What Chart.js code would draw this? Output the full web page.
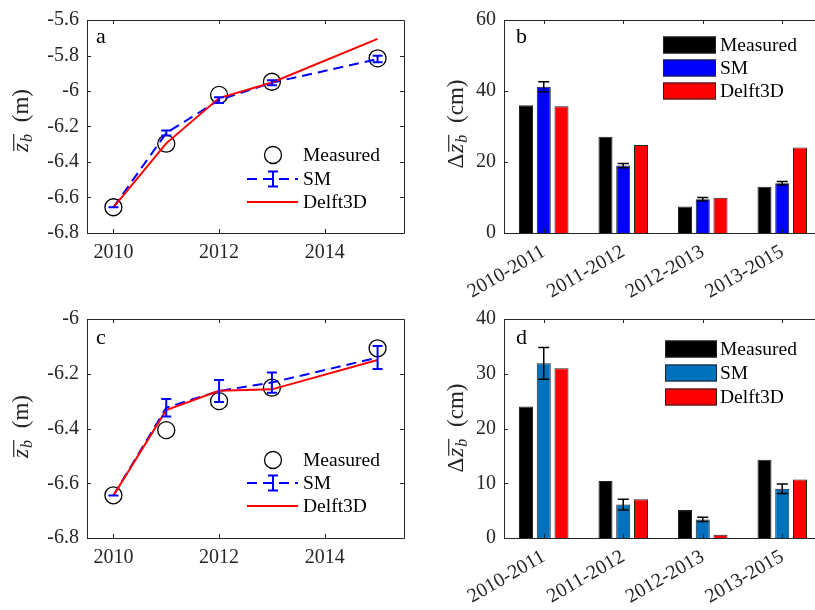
<!DOCTYPE html>
<html>
<head>
<meta charset="utf-8">
<script src="https://cdn.jsdelivr.net/npm/chart.js@4.4.1/dist/chart.umd.min.js"></script>
<style>
  html, body { margin: 0; padding: 0; background: #fff; overflow: hidden; width: 815px; height: 610px; }
  canvas { position: absolute; left: 0; top: 0; }
</style>
</head>
<body>
<canvas id="panelA" width="840" height="610"></canvas>
<canvas id="panelB" width="840" height="610"></canvas>
<canvas id="panelC" width="840" height="610"></canvas>
<canvas id="panelD" width="840" height="610"></canvas>
<script>
// ---- data ----
const years = [2010, 2011, 2012, 2013, 2015];
const yearTicks = [2010, 2012, 2014];

// mean bed level, site 1 (m)
const measuredA = [-6.655, -6.297, -6.022, -5.948, -5.816];
const smA       = [-6.655, -6.237, -6.051, -5.953, -5.820];
const smErrA    = [0, 0.014, 0.016, 0.014, 0.018];
const delftA    = [-6.655, -6.295, -6.040, -5.952, -5.706];

// mean bed level, site 2 (m)
const measuredC = [-6.644, -6.406, -6.300, -6.251, -6.107];
const smC       = [-6.645, -6.324, -6.263, -6.232, -6.141];
const smErrC    = [0, 0.032, 0.040, 0.037, 0.042];
const delftC    = [-6.645, -6.333, -6.262, -6.257, -6.150];

// bed level change per period (cm)
const periods   = ['2010-2011', '2011-2012', '2012-2013', '2013-2015'];
const measuredB = [36.0, 27.1, 7.5, 13.0];
const smB       = [41.2, 19.0, 9.5, 14.0];
const smErrB    = [1.4, 0.6, 0.5, 0.5];
const delftB    = [35.7, 24.8, 9.9, 24.1];

const measuredD = [24.0, 10.4, 5.1, 14.3];
const smD       = [31.9, 6.1, 3.4, 9.0];
const smErrD    = [2.9, 1.0, 0.4, 0.85];
const delftD    = [31.0, 7.1, 0.6, 10.7];

const seriesNames = ['Measured', 'SM', 'Delft3D'];

// ---- styling ----
const FONT = '"Liberation Serif", "DejaVu Serif", "Times New Roman", serif';
const AXIS = '#262626';
const BLUE = '#0000ff';
const RED = '#ff0000';
const MBLUE = '#0072bd';
const CW = 840, CH = 610;
const TICK_FONT = { family: FONT, size: 20 };

function fmtTick(v) { return String(Number(v.toFixed(1))); }

// box around the plot area with inward tick marks on all four sides
const boxPlugin = {
  id: 'boxTicks',
  afterDraw(chart) {
    const { ctx, chartArea: a, scales } = chart;
    const len = 4;
    ctx.save();
    ctx.strokeStyle = AXIS;
    ctx.lineWidth = 1;
    ctx.beginPath();
    ctx.rect(Math.round(a.left) + 0.5, Math.round(a.top) + 0.5,
             Math.round(a.right - a.left), Math.round(a.bottom - a.top));
    const xs = scales.x, ys = scales.y;
    xs.ticks.forEach((t, i) => {
      const px = Math.round(xs.getPixelForTick(i)) + 0.5;
      ctx.moveTo(px, a.bottom); ctx.lineTo(px, a.bottom - len);
      ctx.moveTo(px, a.top); ctx.lineTo(px, a.top + len);
    });
    ys.ticks.forEach((t, i) => {
      const py = Math.round(ys.getPixelForTick(i)) + 0.5;
      ctx.moveTo(a.left, py); ctx.lineTo(a.left + len, py);
      ctx.moveTo(a.right, py); ctx.lineTo(a.right - len, py);
    });
    ctx.stroke();
    ctx.restore();
  }
};

// error bars for the SM series (dataset index 1)
const errorBarPlugin = {
  id: 'errBars',
  afterDatasetsDraw(chart, args, opts) {
    const { ctx } = chart;
    const ys = chart.scales.y;
    const meta = chart.getDatasetMeta(1);
    const vals = chart.data.datasets[1].data.map(d => (typeof d === 'object' ? d.y : d));
    ctx.save();
    ctx.strokeStyle = opts.color;
    ctx.lineWidth = opts.width;
    ctx.setLineDash([]);
    meta.data.forEach((el, i) => {
      const e = opts.errors[i];
      const top = ys.getPixelForValue(vals[i] + e);
      const bot = ys.getPixelForValue(vals[i] - e);
      const x = el.x, c = opts.cap;
      ctx.beginPath();
      ctx.moveTo(x, top); ctx.lineTo(x, bot);
      ctx.moveTo(x - c, top); ctx.lineTo(x + c, top);
      ctx.moveTo(x - c, bot); ctx.lineTo(x + c, bot);
      ctx.stroke();
    });
    ctx.restore();
  }
};

// rotated y-axis title: [prefix] z_b with overline, then unit
function drawZTitle(ctx, cx, cy, prefix, unit) {
  const fs = 23;
  const fN = fs + 'px ' + FONT;
  const fI = 'italic ' + fs + 'px ' + FONT;
  const fS = 'italic ' + Math.round(fs * 0.7) + 'px ' + FONT;
  const gap = 6;
  ctx.save();
  ctx.translate(cx, cy);
  ctx.rotate(-Math.PI / 2);
  ctx.fillStyle = AXIS;
  ctx.textBaseline = 'alphabetic';
  ctx.textAlign = 'left';
  ctx.font = fN; const wP = prefix ? ctx.measureText(prefix).width : 0;
  ctx.font = fI; const wZ = ctx.measureText('z').width;
  ctx.font = fS; const wB = ctx.measureText('b').width;
  ctx.font = fN; const wU = ctx.measureText(' (' + unit + ')').width;
  const total = wP + 1 + wZ + 1 + wB + gap + wU;
  let x = -total / 2;
  const base = 6;
  if (prefix) { ctx.font = fN; ctx.fillText(prefix, x, base); x += wP + 1; }
  const zStart = x;
  ctx.font = fI; ctx.fillText('z', x, base); x += wZ + 1;
  ctx.font = fS; ctx.fillText('b', x, base + 4); x += wB;
  const zEnd = x;
  ctx.strokeStyle = AXIS; ctx.lineWidth = 1.2;
  ctx.beginPath();
  ctx.moveTo(zStart + 1, base - fs * 0.62);
  ctx.lineTo(zEnd, base - fs * 0.62);
  ctx.stroke();
  x += gap;
  ctx.font = fN; ctx.fillText(' (' + unit + ')', x, base);
  ctx.restore();
}

// panel letter, axis title and legend
const decorPlugin = {
  id: 'decor',
  afterDraw(chart, args, o) {
    const { ctx } = chart;
    ctx.save();
    ctx.fillStyle = '#000';
    ctx.font = '22px ' + FONT;
    ctx.textBaseline = 'alphabetic';
    ctx.textAlign = 'left';
    ctx.fillText(o.letter, o.letterX, o.letterY);
    drawZTitle(ctx, o.titleX, o.titleY, o.prefix, o.unit);

    ctx.font = '19.5px ' + FONT;
    ctx.textBaseline = 'middle';
    const L = o.legend;
    if (o.kind === 'line') {
      L.rows.forEach((ry, i) => {
        if (i === 0) {
          ctx.strokeStyle = '#000'; ctx.lineWidth = 1.3;
          ctx.beginPath(); ctx.arc(L.cx, ry, 8.5, 0, Math.PI * 2); ctx.stroke();
        } else if (i === 1) {
          ctx.strokeStyle = BLUE; ctx.lineWidth = 2;
          ctx.setLineDash([10, 6]);
          ctx.beginPath(); ctx.moveTo(L.x0, ry); ctx.lineTo(L.x1, ry); ctx.stroke();
          ctx.setLineDash([]);
          ctx.beginPath();
          ctx.moveTo(L.cx, ry - 7.5); ctx.lineTo(L.cx, ry + 7.5);
          ctx.moveTo(L.cx - 5, ry - 7.5); ctx.lineTo(L.cx + 5, ry - 7.5);
          ctx.moveTo(L.cx - 5, ry + 7.5); ctx.lineTo(L.cx + 5, ry + 7.5);
          ctx.stroke();
        } else {
          ctx.strokeStyle = RED; ctx.lineWidth = 2;
          ctx.beginPath(); ctx.moveTo(L.x0, ry); ctx.lineTo(L.x1, ry); ctx.stroke();
        }
        ctx.fillStyle = '#000';
        ctx.fillText(seriesNames[i], L.tx, ry + 1);
      });
    } else {
      L.rows.forEach((ry, i) => {
        ctx.fillStyle = L.colors[i];
        ctx.fillRect(L.x0, ry - 8.5, L.x1 - L.x0, 17);
        ctx.strokeStyle = '#222'; ctx.lineWidth = 1;
        ctx.strokeRect(L.x0 + 0.5, ry - 8.5 + 0.5, L.x1 - L.x0 - 1, 16);
        ctx.fillStyle = '#000';
        ctx.fillText(seriesNames[i], L.tx, ry + 1);
      });
    }
    ctx.restore();
  }
};

function paddingFor(area, wy, hx) {
  return { left: area.l - wy, top: area.t, right: CW - area.r, bottom: CH - area.b - hx };
}

function lineChart(id, area, meas, sm, smErr, delft, yMin, yMax, decor) {
  const WY = 70, HX = 40;
  const pts = arr => years.map((x, i) => ({ x, y: arr[i] }));
  return new Chart(document.getElementById(id), {
    type: 'line',
    data: {
      datasets: [
        { label: 'Measured', data: pts(meas), showLine: false, pointStyle: 'circle',
          pointRadius: 8.5, pointBorderWidth: 1.3, pointBorderColor: '#000',
          pointBackgroundColor: 'rgba(0,0,0,0)', borderColor: '#000', order: 3, clip: false },
        { label: 'SM', data: pts(sm), borderColor: BLUE, borderWidth: 2, borderDash: [10, 6],
          pointRadius: 0, fill: false, tension: 0, order: 2, clip: false },
        { label: 'Delft3D', data: pts(delft), borderColor: RED, borderWidth: 2,
          pointRadius: 0, fill: false, tension: 0, order: 1, clip: false }
      ]
    },
    options: {
      responsive: false, animation: false, events: [],
      layout: { padding: paddingFor(area, WY, HX) },
      scales: {
        x: { type: 'linear', min: 2009.5, max: 2015.5,
             afterBuildTicks: s => { s.ticks = yearTicks.map(v => ({ value: v })); },
             afterFit: s => { s.height = HX; },
             grid: { display: false, drawTicks: false }, border: { display: false },
             ticks: { font: TICK_FONT, color: AXIS, padding: 8, maxRotation: 0,
                      callback: v => String(v) } },
        y: { type: 'linear', min: yMin, max: yMax,
             afterFit: s => { s.width = WY; },
             grid: { display: false, drawTicks: false }, border: { display: false },
             ticks: { font: TICK_FONT, color: AXIS, padding: 8, stepSize: 0.2,
                      callback: v => fmtTick(v) } }
      },
      plugins: {
        legend: { display: false }, tooltip: { enabled: false },
        errBars: { errors: smErr, color: BLUE, width: 2, cap: 5 },
        decor: decor
      }
    },
    plugins: [boxPlugin, errorBarPlugin, decorPlugin]
  });
}

function barChart(id, area, meas, sm, smErr, delft, smColor, yMax, yStep, decor) {
  const WY = 60, HX = 80;
  const common = { borderColor: '#222', borderWidth: 1, categoryPercentage: 0.67, barPercentage: 0.79 };
  return new Chart(document.getElementById(id), {
    type: 'bar',
    data: {
      labels: periods,
      datasets: [
        Object.assign({ label: 'Measured', data: meas, backgroundColor: '#000' }, common),
        Object.assign({ label: 'SM', data: sm, backgroundColor: smColor }, common),
        Object.assign({ label: 'Delft3D', data: delft, backgroundColor: RED }, common)
      ]
    },
    options: {
      responsive: false, animation: false, events: [],
      layout: { padding: paddingFor(area, WY, HX) },
      scales: {
        x: { afterFit: s => { s.height = HX; },
             grid: { display: false, drawTicks: false }, border: { display: false },
             ticks: { font: TICK_FONT, color: AXIS, padding: 7, minRotation: 30, maxRotation: 30,
                      autoSkip: false } },
        y: { min: 0, max: yMax,
             afterFit: s => { s.width = WY; },
             grid: { display: false, drawTicks: false }, border: { display: false },
             ticks: { font: TICK_FONT, color: AXIS, padding: 8, stepSize: yStep } }
      },
      plugins: {
        legend: { display: false }, tooltip: { enabled: false },
        errBars: { errors: smErr, color: '#000', width: 1.5, cap: 5.5 },
        decor: decor
      }
    },
    plugins: [boxPlugin, errorBarPlugin, decorPlugin]
  });
}

function drawAll() {
  lineChart('panelA', { l: 87, t: 15, r: 404, b: 233 }, measuredA, smA, smErrA, delftA, -6.8, -5.6, {
    kind: 'line', letter: 'a', letterX: 96, letterY: 43,
    titleX: 22, titleY: 120, prefix: '', unit: 'm',
    legend: { cx: 273, x0: 247, x1: 298, tx: 303, rows: [155, 179, 202] }
  });

  barChart('panelB', { l: 504, t: 15, r: 822, b: 233 }, measuredB, smB, smErrB, delftB, BLUE, 60, 20, {
    kind: 'bar', letter: 'b', letterX: 516, letterY: 43,
    titleX: 457, titleY: 124, prefix: '\u0394', unit: 'cm',
    legend: { x0: 663, x1: 716, tx: 720, rows: [45, 68, 91], colors: ['#000', BLUE, RED] }
  });

  lineChart('panelC', { l: 87, t: 319, r: 404, b: 538 }, measuredC, smC, smErrC, delftC, -6.8, -6.0, {
    kind: 'line', letter: 'c', letterX: 96, letterY: 344,
    titleX: 22, titleY: 426, prefix: '', unit: 'm',
    legend: { cx: 273, x0: 247, x1: 298, tx: 303, rows: [460, 483, 506] }
  });

  barChart('panelD', { l: 504, t: 319, r: 822, b: 538 }, measuredD, smD, smErrD, delftD, MBLUE, 40, 10, {
    kind: 'bar', letter: 'd', letterX: 516, letterY: 344,
    titleX: 457, titleY: 428, prefix: '\u0394', unit: 'cm',
    legend: { x0: 665, x1: 717, tx: 720, rows: [349, 373, 397], colors: ['#000', MBLUE, RED] }
  });
}

// make sure the serif faces are ready before the canvases are painted
const faces = ['20px "Liberation Serif"', 'italic 20px "Liberation Serif"'];
let drawn = false;
function once() { if (!drawn) { drawn = true; drawAll(); } }
if (document.fonts && document.fonts.load) {
  Promise.all(faces.map(f => document.fonts.load(f, 'Measured 2010'))).then(once, once);
  setTimeout(once, 1500);
} else {
  once();
}
</script>
</body>
</html>
